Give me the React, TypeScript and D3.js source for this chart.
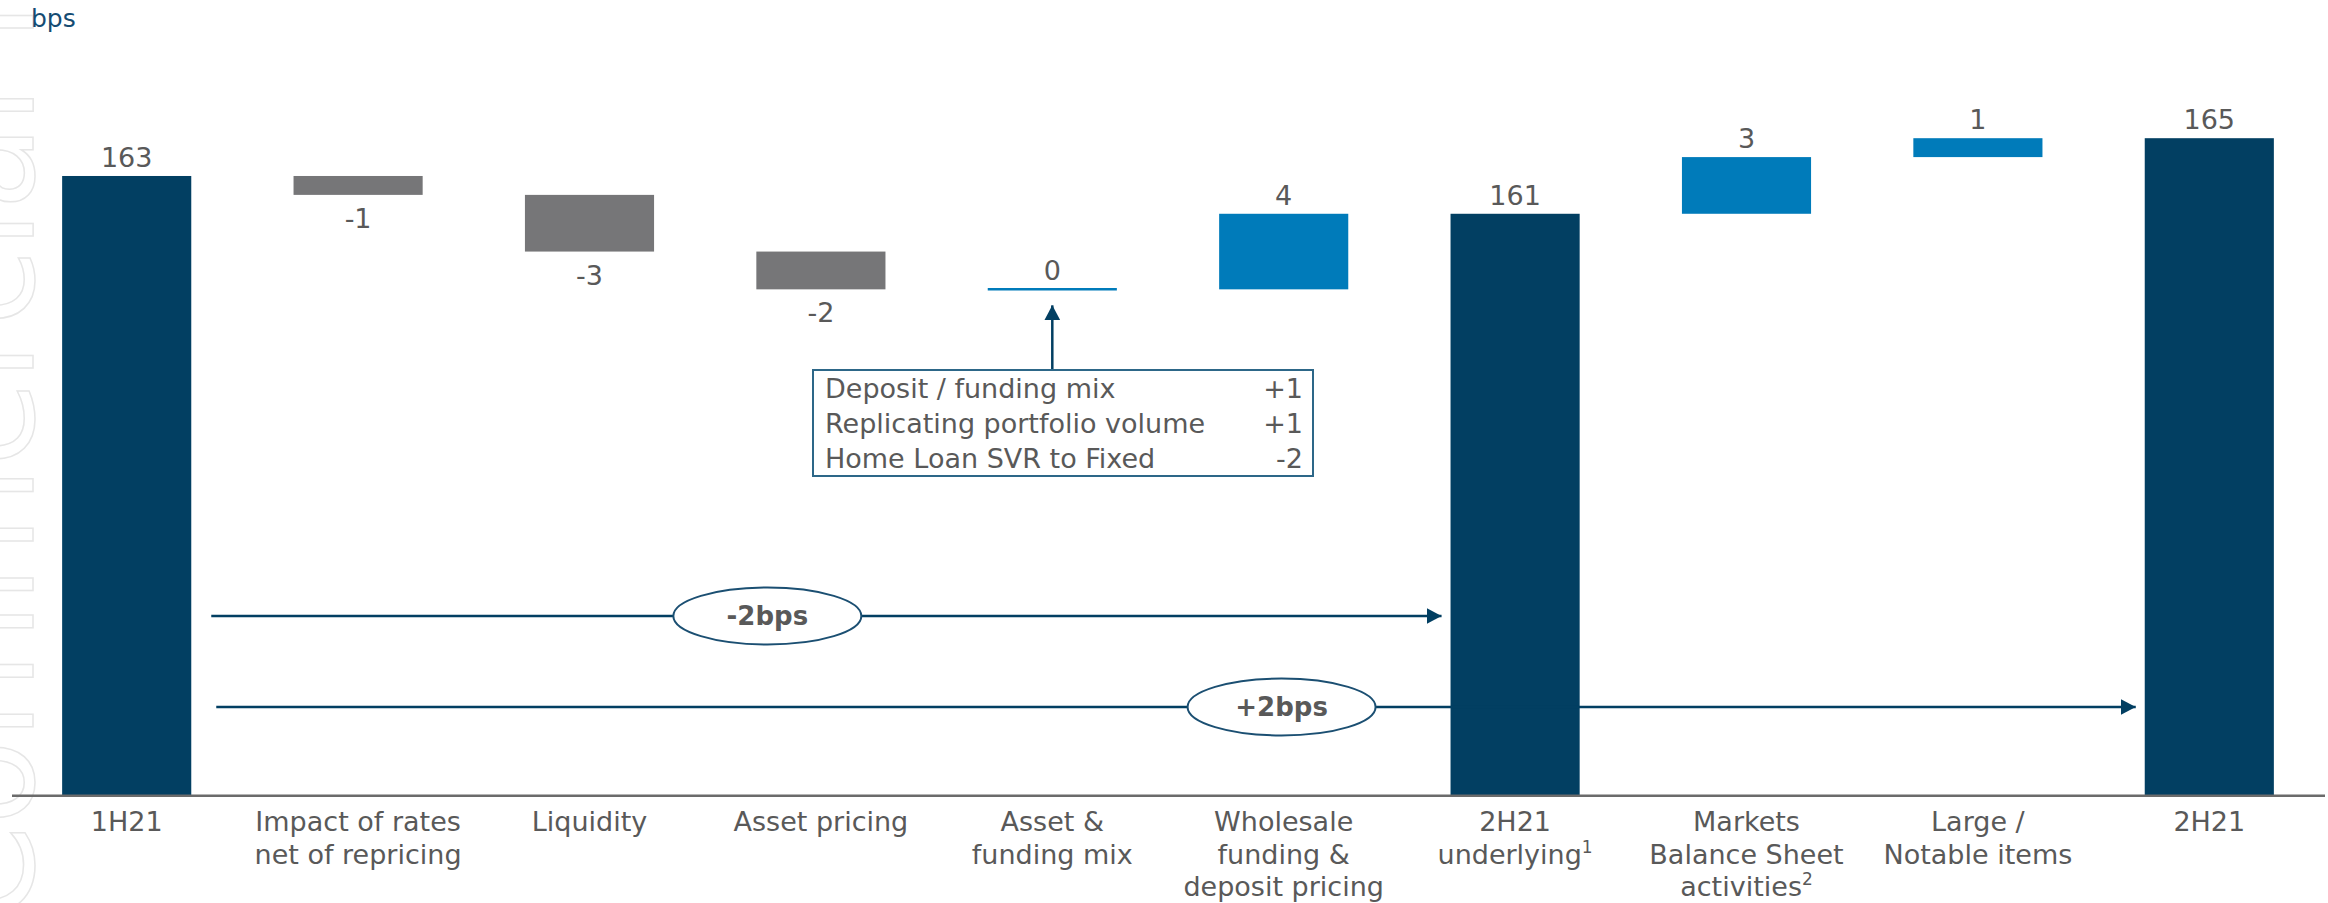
import React, { useRef, useEffect } from "react";
import { select, scaleBand, scaleLinear } from "d3";

// waterfall data (bps)
const categories = ["1H21", "Impact", "Liquidity", "Asset pricing", "Asset mix", "Wholesale", "2H21 underlying", "Markets", "Large", "2H21"];
const labelLines = [
    ["1H21"],
    ["Impact of rates", "net of repricing"],
    ["Liquidity"],
    ["Asset pricing"],
    ["Asset &", "funding mix"],
    ["Wholesale", "funding &", "deposit pricing"],
    ["2H21", "underlying"],
    ["Markets", "Balance Sheet", "activities"],
    ["Large /", "Notable items"],
    ["2H21"]
];
const footnotes = ["", "", "", "", "", "", "1", "2", "", ""];
const values = [163, -1, -3, -2, 0, 4, 161, 3, 1, 165];
const isTotal = [true, false, false, false, false, false, true, false, false, true];

// callout box under "Asset & funding mix"
const boxLabels = ["Deposit / funding mix", "Replicating portfolio volume", "Home Loan SVR to Fixed"];
const boxValues = ["+1", "+1", "-2"];

// bridge arrows
const bridgeLabels = ["-2bps", "+2bps"];
const bridgeFrom = [0, 0];
const bridgeTo = [6, 9];

const width = 2328;
const height = 903;
const axisY = 795.7;
const axisFloor = 130.2;

const NAVY = "#023f62";
const GREY = "#767678";
const BLUE = "#007bba";
const TEXT = "#595959";
const FONT = "'DejaVu Sans', Verdana, sans-serif";

const App = () => {
    const svgRef = useRef(null);

    useEffect(() => {
        const svg = select(svgRef.current);
        svg.selectAll("*").remove();
        svg.attr("width", width).attr("height", height);

        const xScale = scaleBand()
            .domain(categories)
            .range([11, 2325])
            .paddingInner(0.442)
            .paddingOuter(0.221);
        const yScale = scaleLinear()
            .domain([axisFloor, 165])
            .range([axisY, 138.2]);
        const bw = xScale.bandwidth();

        const defs = svg.append("defs");
        defs.append("marker")
            .attr("id", "arrowHead")
            .attr("markerUnits", "userSpaceOnUse")
            .attr("markerWidth", 16)
            .attr("markerHeight", 16)
            .attr("refX", 15)
            .attr("refY", 8)
            .attr("orient", "auto")
            .append("path")
            .attr("d", "M0,0 L15,8 L0,16 Z")
            .attr("fill", NAVY);

        // faint watermark running up the left edge (cut off, as in the source slide)
        svg.append("text")
            .attr("transform", "translate(33," + (height + 20) + ") rotate(-90)")
            .attr("font-family", FONT)
            .attr("font-size", 140)
            .attr("fill", "none")
            .attr("stroke", "#e6e6e6")
            .attr("stroke-width", 1.5)
            .text("Commercial in confidence");

        svg.append("text")
            .attr("x", 31)
            .attr("y", 27)
            .attr("font-family", FONT)
            .attr("font-size", 25)
            .attr("fill", "#154c73")
            .text("bps");

        // work out the waterfall steps
        let running = 0;
        const steps = values.map((v, i) => {
            if (isTotal[i]) {
                running = v;
                return { start: axisFloor, end: v, v: v, total: true };
            }
            const start = running;
            running = running + v;
            return { start: start, end: running, v: v, total: false };
        });

        const g = svg.append("g");
        steps.forEach((d, i) => {
            const x0 = xScale(categories[i]);
            const top = yScale(Math.max(d.start, d.end));
            const bottom = yScale(Math.min(d.start, d.end));
            if (!d.total && d.v === 0) {
                g.append("line")
                    .attr("x1", x0).attr("x2", x0 + bw)
                    .attr("y1", top).attr("y2", top)
                    .attr("stroke", BLUE).attr("stroke-width", 2.5);
            } else {
                g.append("rect")
                    .attr("x", x0)
                    .attr("y", top)
                    .attr("width", bw)
                    .attr("height", bottom - top)
                    .attr("fill", d.total ? NAVY : (d.v < 0 ? GREY : BLUE));
            }
            const below = !d.total && d.v < 0;
            g.append("text")
                .attr("x", x0 + bw / 2)
                .attr("y", below ? bottom + 33 : top - 9)
                .attr("text-anchor", "middle")
                .attr("font-family", FONT)
                .attr("font-size", 27)
                .attr("fill", TEXT)
                .text(String(d.v));
        });

        // axis line + category labels
        svg.append("line")
            .attr("x1", 12).attr("x2", 2325)
            .attr("y1", axisY).attr("y2", axisY)
            .attr("stroke", "#6b6b6b").attr("stroke-width", 2.5);

        labelLines.forEach((lines, i) => {
            const t = svg.append("text")
                .attr("text-anchor", "middle")
                .attr("font-family", FONT)
                .attr("font-size", 27)
                .attr("fill", TEXT);
            const cx = xScale(categories[i]) + bw / 2;
            lines.forEach((ln, j) => {
                const isLast = j === lines.length - 1;
                const tl = t.append("tspan")
                    .attr("x", cx)
                    .attr("y", 831 + j * 32.6);
                if (isLast && footnotes[i]) {
                    tl.append("tspan").text(ln);
                    tl.append("tspan")
                        .attr("font-size", 17)
                        .attr("dy", -11)
                        .text(footnotes[i]);
                } else {
                    tl.text(ln);
                }
            });
        });

        // callout box
        const boxX = 813, boxY = 370, boxW = 500, boxH = 106;
        const mixX = xScale(categories[4]) + bw / 2;
        const mixY = yScale(steps[4].end);
        svg.append("line")
            .attr("x1", mixX).attr("x2", mixX)
            .attr("y1", boxY).attr("y2", mixY + 16)
            .attr("stroke", NAVY).attr("stroke-width", 2.5)
            .attr("marker-end", "url(#arrowHead)");
        svg.append("rect")
            .attr("x", boxX).attr("y", boxY)
            .attr("width", boxW).attr("height", boxH)
            .attr("fill", "white")
            .attr("stroke", "#2d6788").attr("stroke-width", 2);
        boxLabels.forEach((lab, i) => {
            svg.append("text")
                .attr("x", boxX + 12)
                .attr("y", boxY + 28 + i * 35)
                .attr("font-family", FONT)
                .attr("font-size", 27)
                .attr("fill", TEXT)
                .text(lab);
            svg.append("text")
                .attr("x", boxX + boxW - 10)
                .attr("y", boxY + 28 + i * 35)
                .attr("text-anchor", "end")
                .attr("font-family", FONT)
                .attr("font-size", 27)
                .attr("fill", TEXT)
                .text(boxValues[i]);
        });

        // bridge arrows with ellipse labels
        const bridgeY = [616, 707];
        const bridgePos = [0.452, 0.555];
        const startGap = [20, 25];
        bridgeLabels.forEach((lab, i) => {
            const xs = xScale(categories[bridgeFrom[i]]) + bw + startGap[i];
            const xe = xScale(categories[bridgeTo[i]]) - 9;
            const cx = xs + (xe - xs) * bridgePos[i];
            svg.append("line")
                .attr("x1", xs).attr("x2", xe)
                .attr("y1", bridgeY[i]).attr("y2", bridgeY[i])
                .attr("stroke", NAVY).attr("stroke-width", 2.5)
                .attr("marker-end", "url(#arrowHead)");
            svg.append("ellipse")
                .attr("cx", cx).attr("cy", bridgeY[i])
                .attr("rx", 94).attr("ry", 28.5)
                .attr("fill", "white")
                .attr("stroke", "#1b4f72").attr("stroke-width", 2);
            svg.append("text")
                .attr("x", cx).attr("y", bridgeY[i] + 9)
                .attr("text-anchor", "middle")
                .attr("font-family", FONT)
                .attr("font-size", 26)
                .attr("font-weight", "bold")
                .attr("fill", TEXT)
                .text(lab);
        });
    }, []);

    return (
        <div style={{ position: "absolute", left: 0, top: 0 }}>
            <svg ref={svgRef} style={{ display: "block" }}></svg>
        </div>
    );
};

export default App;
